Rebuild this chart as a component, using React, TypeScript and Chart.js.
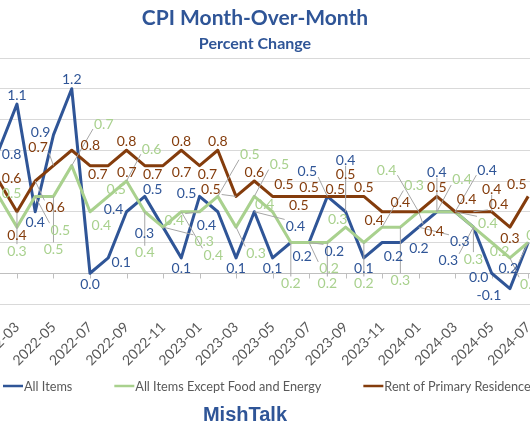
import React, { useEffect, useRef } from "react";
import { Chart, registerables } from "chart.js";

Chart.register(...registerables);

// ---------- data ----------
const months = [
  "2022-02", "2022-03", "2022-04", "2022-05", "2022-06", "2022-07", "2022-08", "2022-09", "2022-10", "2022-11", "2022-12",
  "2023-01", "2023-02", "2023-03", "2023-04", "2023-05", "2023-06", "2023-07", "2023-08", "2023-09", "2023-10", "2023-11", "2023-12",
  "2024-01", "2024-02", "2024-03", "2024-04", "2024-05", "2024-06", "2024-07",
];
const tickLabels = [
  "2022-03", "2022-05", "2022-07", "2022-09", "2022-11", "2023-01", "2023-03", "2023-05",
  "2023-07", "2023-09", "2023-11", "2024-01", "2024-03", "2024-05", "2024-07",
];
const allItems = [0.8, 1.1, 0.4, 0.9, 1.2, 0.0, 0.1, 0.4, 0.5, 0.3, 0.1, 0.5, 0.4, 0.1, 0.4, 0.1, 0.2, 0.2, 0.5, 0.4, 0.1, 0.2, 0.2, 0.3, 0.4, 0.4, 0.3, 0.0, -0.1, 0.2];
const coreItems = [0.5, 0.3, 0.5, 0.5, 0.7, 0.4, 0.5, 0.6, 0.4, 0.3, 0.4, 0.4, 0.5, 0.3, 0.5, 0.4, 0.2, 0.2, 0.2, 0.3, 0.2, 0.3, 0.3, 0.4, 0.4, 0.4, 0.3, 0.2, 0.1, 0.2];
const rentPrimary = [0.6, 0.4, 0.6, 0.7, 0.8, 0.7, 0.7, 0.8, 0.7, 0.7, 0.8, 0.7, 0.8, 0.5, 0.6, 0.5, 0.5, 0.5, 0.5, 0.5, 0.5, 0.4, 0.4, 0.4, 0.5, 0.4, 0.4, 0.4, 0.3, 0.5];
const seriesNames = ["All Items", "All Items Except Food and Energy", "Rent of Primary Residence"];
const titleText = "CPI Month-Over-Month";
const subtitleText = "Percent Change";
const sourceText = "MishTalk";

// ---------- styles ----------
const seriesValues = [allItems, coreItems, rentPrimary];
const seriesColors = ["#2F5597", "#A9D18E", "#843C0C"];
const labelColors = ["#2F5597", "#A9D18E", "#843C0C"];
const titleColor = "#2F5597";
const axisTextColor = "#595959";
const gridColor = "#D9D9D9";
const zeroColor = "#BFBFBF";
const leaderColor = "#A6A6A6";
const FONT = "Lato, 'Open Sans', sans-serif";
const LABEL_FONT = `14px ${FONT}`;

function segHitsRect(x1: number, y1: number, x2: number, y2: number, r: any) {
  let t0 = 0, t1 = 1;
  const dx = x2 - x1, dy = y2 - y1;
  const p = [-dx, dx, -dy, dy];
  const q = [x1 - r.x0, r.x1 - x1, y1 - r.y0, r.y1 - y1];
  for (let i = 0; i < 4; i++) {
    if (p[i] === 0) {
      if (q[i] < 0) return false;
    } else {
      const t = q[i] / p[i];
      if (p[i] < 0) {
        if (t > t1) return false;
        if (t > t0) t0 = t;
      } else {
        if (t < t0) return false;
        if (t < t1) t1 = t;
      }
    }
  }
  return true;
}

const pointLabelPlugin = {
  id: "pointLabels",
  afterDatasetsDraw(chart: any) {
    const ctx = chart.ctx as CanvasRenderingContext2D;
    const area = chart.chartArea;
    ctx.save();
    ctx.font = LABEL_FONT;
    const metas = chart.data.datasets.map((_: any, i: number) => chart.getDatasetMeta(i));
    const segs: number[][] = [];
    metas.forEach((m: any) => {
      for (let k = 1; k < m.data.length; k++) {
        const a = m.data[k - 1], b = m.data[k];
        segs.push([a.x, a.y, b.x, b.y]);
      }
    });
    const placed: any[] = [];
    const radii = [4, 10, 17, 25, 34, 46];
    const steps = [0, 35, -35, 70, -70, 110, -110, 145, -145, 180];
    const h = 12;
    for (const di of [2, 0, 1]) {
      const m = metas[di];
      const vals = seriesValues[di];
      m.data.forEach((pt: any, k: number) => {
        if (pt.x < area.left - 3 || pt.x > area.right + 3) return;
        const v = vals[k];
        const text = v.toFixed(1);
        const w = ctx.measureText(text).width;
        const prev = k > 0 ? vals[k - 1] : v;
        const next = k < vals.length - 1 ? vals[k + 1] : v;
        const isMin = v <= prev && v <= next && (v < prev || v < next);
        const base = isMin ? 90 : -90;
        let best: any = null;
        let bestScore = Infinity;
        for (const r of radii) {
          for (const st of steps) {
            const a = ((base + st) * Math.PI) / 180;
            const c = Math.cos(a), s = Math.sin(a);
            const cx = pt.x + c * (r + w / 2);
            const cy = pt.y + s * (r + h / 2);
            const rect = { x0: cx - w / 2 - 1, y0: cy - h / 2, x1: cx + w / 2 + 1, y1: cy + h / 2, cx, cy, r };
            let score = r * 1.2 + Math.abs(st) * 0.04;
            if (rect.y0 < area.top + 2 || rect.y1 > area.bottom - 2) score += 1000;
            if (rect.x0 < 0) score += 8 * -rect.x0;
            if (rect.x1 > 530) score += 8 * (rect.x1 - 530);
            for (const p of placed) {
              const ox = Math.min(p.x1, rect.x1) - Math.max(p.x0, rect.x0);
              const oy = Math.min(p.y1, rect.y1) - Math.max(p.y0, rect.y0);
              if (ox > -1 && oy > -1) score += 400 + Math.max(ox, 0) * Math.max(oy, 0);
            }
            for (const sg of segs) {
              if (segHitsRect(sg[0], sg[1], sg[2], sg[3], rect)) score += 70;
            }
            if (score < bestScore) {
              bestScore = score;
              best = rect;
            }
          }
        }
        placed.push({ ...best, text, color: labelColors[di], px: pt.x, py: pt.y });
      });
    }
    // leaders
    ctx.strokeStyle = leaderColor;
    ctx.lineWidth = 1;
    for (const p of placed) {
      if (p.r < 12) continue;
      const qx = Math.min(Math.max(p.px, p.x0), p.x1);
      const qy = Math.min(Math.max(p.py, p.y0), p.y1);
      ctx.beginPath();
      ctx.moveTo(p.px, p.py);
      ctx.lineTo(qx, qy);
      ctx.stroke();
    }
    ctx.textAlign = "center";
    ctx.textBaseline = "middle";
    for (const p of placed) {
      ctx.fillStyle = p.color;
      ctx.fillText(p.text, p.cx, p.cy + 1);
    }
    ctx.restore();
  },
};

const zeroTickPlugin = {
  id: "zeroTicks",
  beforeDatasetsDraw(chart: any) {
    const ctx = chart.ctx as CanvasRenderingContext2D;
    const xs = chart.scales.x, ys = chart.scales.y;
    const y0 = Math.round(ys.getPixelForValue(0)) + 0.5;
    ctx.save();
    ctx.strokeStyle = zeroColor;
    ctx.lineWidth = 1;
    ctx.beginPath();
    for (const t of xs.ticks) {
      const px = Math.round(xs.getPixelForValue(t.value)) + 0.5;
      ctx.moveTo(px, y0);
      ctx.lineTo(px, y0 + 5);
    }
    ctx.stroke();
    ctx.restore();
  },
};

const decorPlugin = {
  id: "decor",
  afterDraw(chart: any) {
    const ctx = chart.ctx as CanvasRenderingContext2D;
    ctx.save();
    ctx.textAlign = "center";
    ctx.textBaseline = "middle";
    ctx.fillStyle = titleColor;
    ctx.font = `bold 21px ${FONT}`;
    ctx.fillText(titleText, 255, 18);
    ctx.font = `bold 16px ${FONT}`;
    ctx.fillText(subtitleText, 255, 44);
    // legend
    ctx.font = `12.7px ${FONT}`;
    ctx.textAlign = "left";
    let lx = 3;
    const ly = 386;
    seriesNames.forEach((name, i) => {
      ctx.strokeStyle = seriesColors[i];
      ctx.lineWidth = 2.5;
      ctx.beginPath();
      ctx.moveTo(lx, ly);
      ctx.lineTo(lx + 20, ly);
      ctx.stroke();
      ctx.fillStyle = axisTextColor;
      ctx.fillText(name, lx + 21, ly + 1);
      lx += 21 + ctx.measureText(name).width + 42;
    });
    ctx.textAlign = "center";
    ctx.fillStyle = titleColor;
    ctx.font = `bold 20px 'Liberation Sans', Arial, sans-serif`;
    ctx.fillText(sourceText, 245, 415);
    ctx.restore();
  },
};

export default function App() {
  const ref = useRef<HTMLCanvasElement>(null);
  useEffect(() => {
    const tickIdx = tickLabels.map((l) => months.indexOf(l));
    const datasets = seriesValues.map((vals, i) => ({
      label: seriesNames[i],
      data: vals.map((v, k) => ({ x: k, y: v })),
      borderColor: seriesColors[i],
      backgroundColor: seriesColors[i],
      borderWidth: 3,
      pointRadius: 0,
      tension: 0,
      borderJoinStyle: "round" as const,
      order: 3 - i,
    }));
    const chart = new Chart(ref.current!, {
      type: "line",
      data: { datasets },
      options: {
        responsive: false,
        animation: false,
        layout: { padding: { top: 58, left: 0, right: 0, bottom: 0 } },
        plugins: {
          legend: { display: false },
          tooltip: { enabled: false },
          title: { display: false },
        },
        scales: {
          x: {
            type: "linear",
            min: 0.071,
            max: 29.1,
            grid: { display: false },
            border: { display: false },
            afterBuildTicks: (s: any) => {
              s.ticks = tickIdx.map((v) => ({ value: v }));
            },
            afterFit: (s: any) => {
              s.height = 138;
              s.paddingLeft = 0;
              s.paddingRight = 0;
            },
            ticks: {
              autoSkip: false,
              maxRotation: 45,
              minRotation: 45,
              padding: 7,
              color: axisTextColor,
              font: { family: FONT, size: 14 },
              callback: (v: any) => months[v as number] ?? "",
            },
          },
          y: {
            min: -0.2,
            max: 1.4,
            afterFit: (s: any) => {
              s.width = 0;
            },
            ticks: { display: false, stepSize: 0.2 },
            grid: {
              drawTicks: false,
              color: (c: any) => (c.tick && Math.abs(c.tick.value) < 1e-9 ? zeroColor : gridColor),
            },
            border: { display: false },
          },
        },
      },
      plugins: [zeroTickPlugin, pointLabelPlugin, decorPlugin],
    } as any);
    return () => chart.destroy();
  }, []);
  return (
    <div style={{ position: "fixed", left: 0, top: 0, width: 530, height: 442, overflow: "hidden", background: "#fff" }}>
      <canvas ref={ref} width={530} height={442} style={{ display: "block", width: 530, height: 442 }} />
    </div>
  );
}
